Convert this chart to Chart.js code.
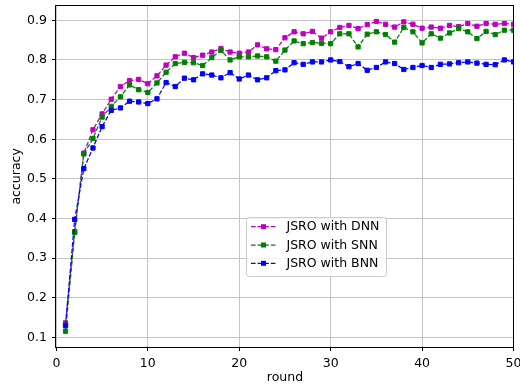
<!DOCTYPE html>
<html>
<head>
<meta charset="utf-8">
<script src="https://cdn.jsdelivr.net/npm/chart.js@4"></script>
<style>
  html, body { margin: 0; padding: 0; background: #fff; }
  #wrap { width: 520px; height: 389px; }
</style>
</head>
<body>
<div id="wrap"><canvas id="myChart" width="520" height="389"></canvas></div>
<script>
const rounds = [1, 2, 3, 4, 5, 6, 7, 8, 9, 10, 11, 12, 13, 14, 15, 16, 17, 18, 19, 20,
  21, 22, 23, 24, 25, 26, 27, 28, 29, 30, 31, 32, 33, 34, 35, 36, 37, 38, 39, 40,
  41, 42, 43, 44, 45, 46, 47, 48, 49, 50]

const dnnAcc = [0.137, 0.367, 0.565, 0.624, 0.664, 0.701, 0.733, 0.748, 0.751, 0.740,
  0.760, 0.787, 0.808, 0.817, 0.806, 0.812, 0.820, 0.829, 0.820, 0.817,
  0.820, 0.838, 0.828, 0.826, 0.856, 0.871, 0.866, 0.872, 0.855, 0.871,
  0.882, 0.887, 0.879, 0.889, 0.897, 0.890, 0.883, 0.896, 0.890, 0.880,
  0.883, 0.880, 0.887, 0.884, 0.892, 0.885, 0.892, 0.890, 0.892, 0.890]

const snnAcc = [0.116, 0.365, 0.563, 0.602, 0.656, 0.683, 0.707, 0.737, 0.725, 0.718,
  0.742, 0.769, 0.791, 0.794, 0.793, 0.786, 0.806, 0.824, 0.800, 0.808,
  0.808, 0.810, 0.808, 0.797, 0.825, 0.848, 0.841, 0.844, 0.842, 0.841,
  0.866, 0.866, 0.833, 0.865, 0.871, 0.864, 0.845, 0.882, 0.871, 0.843,
  0.866, 0.855, 0.868, 0.879, 0.871, 0.854, 0.872, 0.864, 0.875, 0.875]

const bnnAcc = [0.130, 0.398, 0.526, 0.578, 0.632, 0.673, 0.679, 0.696, 0.694, 0.690,
  0.702, 0.743, 0.733, 0.754, 0.750, 0.765, 0.762, 0.755, 0.768, 0.752,
  0.762, 0.750, 0.755, 0.773, 0.775, 0.793, 0.789, 0.795, 0.795, 0.800,
  0.796, 0.783, 0.791, 0.774, 0.781, 0.795, 0.791, 0.776, 0.781, 0.786,
  0.781, 0.789, 0.790, 0.793, 0.795, 0.792, 0.789, 0.788, 0.800, 0.795]

const seriesLabels = ['JSRO with DNN', 'JSRO with SNN', 'JSRO with BNN']
const xTicks = [0, 10, 20, 30, 40, 50]
const yTicks = [0.1, 0.2, 0.3, 0.4, 0.5, 0.6, 0.7, 0.8, 0.9]

const FONT = 'DejaVu Sans'
const FSIZE = 12.5

// y limits with a 5% margin around the data
const all = dnnAcc.concat(snnAcc, bnnAcc)
const lo = Math.min(...all), hi = Math.max(...all)
const yMin = lo - 0.05 * (hi - lo)
const yMax = hi + 0.05 * (hi - lo)

function series(label, values, color, order) {
  return {
    label: label,
    data: values.map((v, i) => ({ x: rounds[i], y: v })),
    borderColor: color,
    backgroundColor: color,
    borderWidth: 1.25,
    borderDash: [4.6, 2],
    pointStyle: 'rect',
    pointRadius: 3,
    pointBorderWidth: 1,
    pointHoverRadius: 3,
    tension: 0,
    fill: false,
    order: order,
    clip: 0
  }
}

const datasets = [
  series(seriesLabels[0], dnnAcc, '#bf00bf', 3),
  series(seriesLabels[1], snnAcc, '#008000', 2),
  series(seriesLabels[2], bnnAcc, '#0000ff', 1)
]

// black frame on all four sides
const frame = {
  id: 'frame',
  afterDatasetsDraw(chart) {
    const { ctx, chartArea: a } = chart
    ctx.save()
    ctx.strokeStyle = '#000'
    ctx.lineWidth = 1
    ctx.strokeRect(Math.round(a.left) - 0.5, Math.round(a.top) - 0.5,
      Math.round(a.right - a.left) + 1, Math.round(a.bottom - a.top) + 1)
    ctx.restore()
  }
}

// legend box drawn inside the plot
const boxLegend = {
  id: 'boxLegend',
  afterDraw(chart) {
    const ctx = chart.ctx
    const x0 = 246.5, y0 = 217.5, w = 140, h = 59, r = 3
    ctx.save()
    ctx.beginPath()
    ctx.roundRect(x0, y0, w, h, r)
    ctx.fillStyle = 'rgba(255,255,255,0.8)'
    ctx.fill()
    ctx.strokeStyle = '#cccccc'
    ctx.lineWidth = 1
    ctx.stroke()
    const order = [0, 1, 2]
    order.forEach((k, row) => {
      const ds = chart.data.datasets[k]
      const cy = 226.7 + row * 18.3
      ctx.strokeStyle = ds.borderColor
      ctx.lineWidth = ds.borderWidth
      ctx.setLineDash(ds.borderDash)
      ctx.beginPath()
      ctx.moveTo(251, cy)
      ctx.lineTo(276, cy)
      ctx.stroke()
      ctx.setLineDash([])
      ctx.fillStyle = ds.borderColor
      ctx.fillRect(261, cy - 2.5, 5, 5)
      ctx.fillStyle = '#000'
      ctx.font = FSIZE + 'px "' + FONT + '"'
      ctx.textBaseline = 'middle'
      ctx.textAlign = 'left'
      ctx.fillText(ds.label, 286.5, cy + 0.5)
    })
    ctx.restore()
  }
}

const ctx = document.getElementById('myChart')

new Chart(ctx, {
  type: 'line',
  data: { datasets: datasets },
  options: {
    responsive: false,
    animation: false,
    devicePixelRatio: 1,
    layout: { padding: { top: 6, right: 6.5, left: 0, bottom: 0 } },
    plugins: {
      legend: { display: false },
      tooltip: { enabled: false }
    },
    scales: {
      x: {
        type: 'linear',
        min: 0,
        max: 50,
        afterBuildTicks: s => { s.ticks = xTicks.map(v => ({ value: v })) },
        afterFit: s => {
          s.height = 42.3
          s.paddingLeft = 0
          s.paddingRight = 0
        },
        ticks: {
          color: '#000',
          font: { family: FONT, size: FSIZE },
          padding: 4.8,
          maxRotation: 0
        },
        grid: { color: '#c4c4c4', lineWidth: 1, tickLength: 4.4, tickColor: '#000' },
        border: { display: false },
        title: {
          display: true,
          text: 'round',
          color: '#000',
          font: { family: FONT, size: FSIZE },
          padding: { top: 0, bottom: 4.2 }
        }
      },
      y: {
        type: 'linear',
        min: yMin,
        max: yMax,
        afterBuildTicks: s => { s.ticks = yTicks.map(v => ({ value: v })) },
        afterFit: s => {
          s.width = 56.4
          s.paddingTop = 0
          s.paddingBottom = 0
        },
        ticks: {
          color: '#000',
          font: { family: FONT, size: FSIZE },
          padding: 5,
          callback: v => v.toFixed(1)
        },
        grid: { color: '#c4c4c4', lineWidth: 1, tickLength: 4.4, tickColor: '#000' },
        border: { display: false },
        title: {
          display: true,
          text: 'accuracy',
          color: '#000',
          font: { family: FONT, size: FSIZE },
          padding: { top: 9.5, bottom: 0 }
        }
      }
    }
  },
  plugins: [frame, boxLegend]
})
</script>
</body>
</html>
